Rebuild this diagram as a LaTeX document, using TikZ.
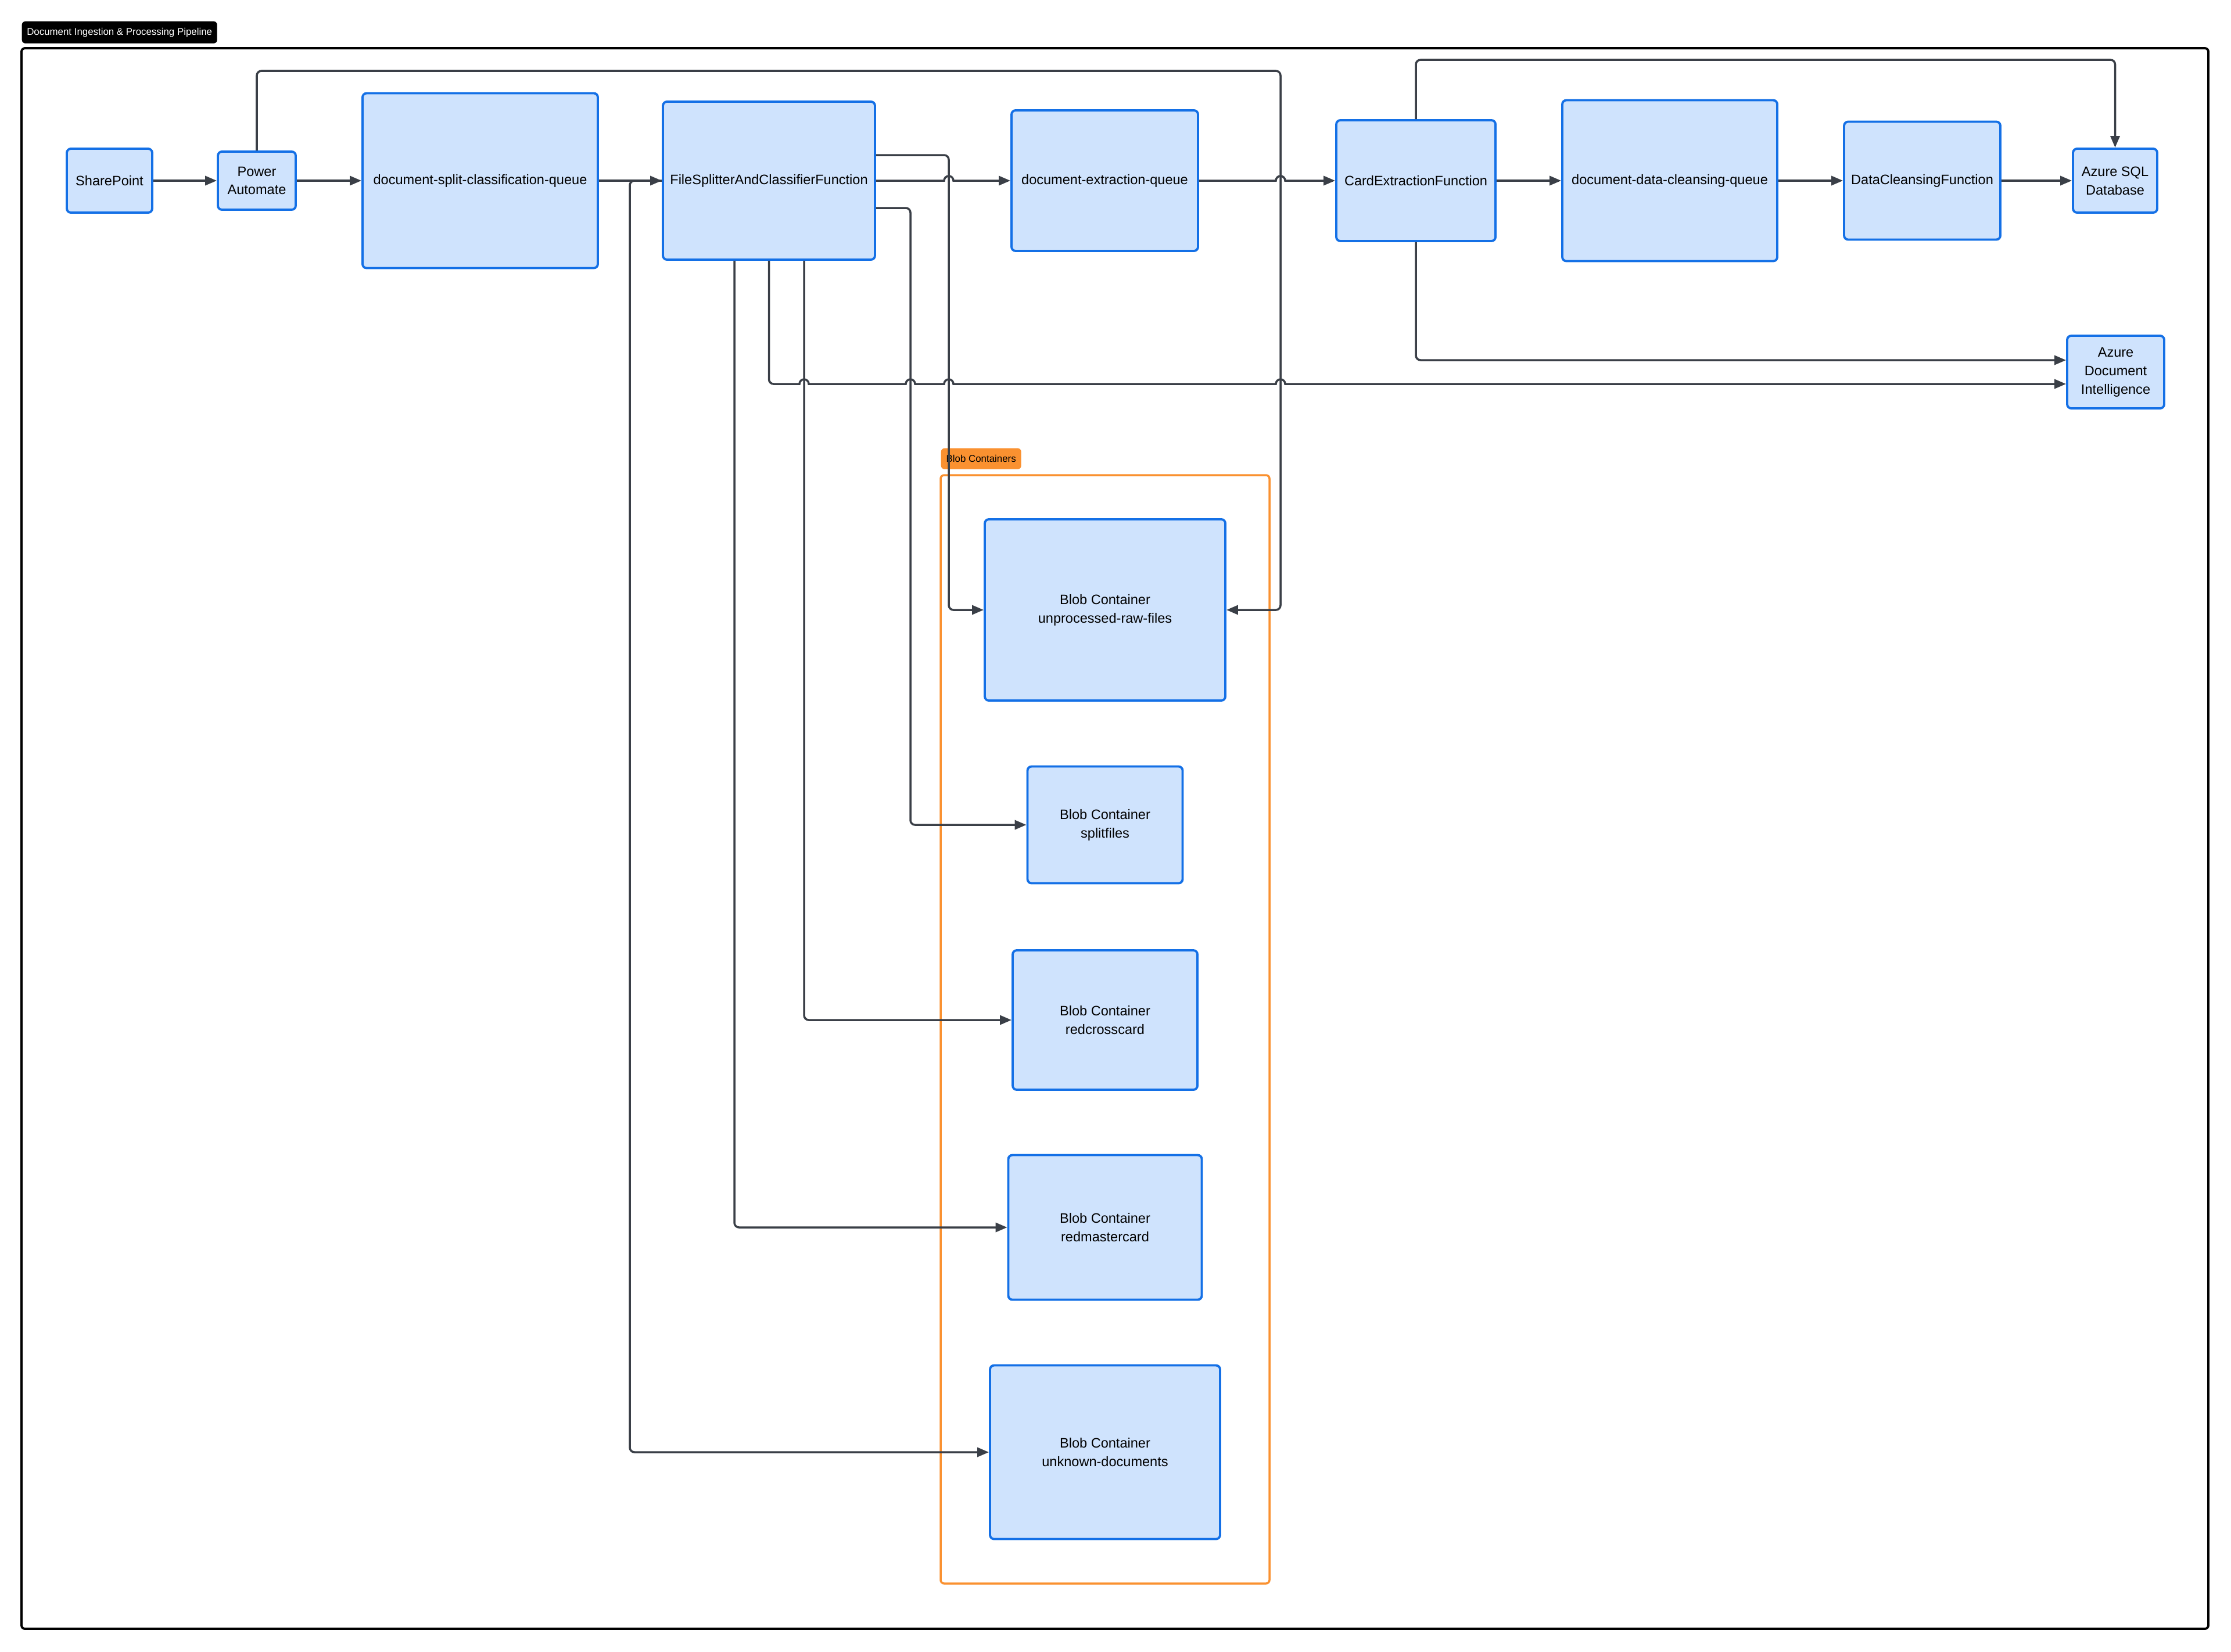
\documentclass[tikz,border=0pt]{standalone}
\usepackage{fontspec}
\setmainfont{Liberation Sans}
\definecolor{azBlue}{RGB}{20, 112, 230}
\definecolor{azFill}{RGB}{207, 227, 253}
\definecolor{wireGray}{RGB}{58, 63, 71}
\definecolor{grpOrange}{RGB}{250, 145, 48}
\usetikzlibrary{arrows.meta, calc}
\newcommand{\boxfont}{\fontsize{6.7}{9.1}\selectfont}
\newcommand{\tagfont}{\fontsize{4.8}{6}\selectfont}
\tikzset{
  svc/.style={rectangle, rounded corners=0.7mm, draw=azBlue, line width=1.1pt, fill=azFill, align=center, inner sep=1pt, font=\boxfont},
  wire/.style={-{Triangle[length=2mm, width=1.6mm]}, line width=1pt, wireGray, rounded corners=0.8mm},
  hop/.style 2 args={sharp corners, insert path={-- (#1-0.08, #2) arc[start angle=180, end angle=0, radius=0.08]}},
  frame/.style={draw=black, line width=1.1pt, rounded corners=0.6mm},
  grp/.style={draw=grpOrange, line width=1pt, rounded corners=0.6mm},
  titletag/.style={rectangle, rounded corners=0.6mm, fill=black, text=white, font=\tagfont, inner sep=0pt, anchor=north west},
  grptag/.style={rectangle, rounded corners=0.6mm, fill=grpOrange, text=black, font=\tagfont, inner sep=0pt, anchor=north west},
}

\begin{document}
\begin{tikzpicture}
  \useasboundingbox (0, 0) rectangle (38.40, -28.43);

  % outer frame and group
  \node[titletag, minimum width=3.36cm, minimum height=0.38cm] (title) at (0.37, -0.36) {Document Ingestion \& Processing Pipeline};
  \draw[frame] (0.37, -0.83) rectangle (38.01, -28.04);
  \node[grptag, minimum width=1.38cm, minimum height=0.36cm] (grplabel) at (16.19, -7.71) {Blob Containers};
  \draw[grp] (16.19, -8.18) rectangle (21.85, -27.26);

  % top row
  \node[svc, minimum width=1.47cm, minimum height=1.10cm] (sp) at (1.885, -3.11) {SharePoint};
  \node[svc, minimum width=1.34cm, minimum height=1.00cm] (pa) at (4.42, -3.11) {Power\\Automate};
  \node[svc, minimum width=4.05cm, minimum height=3.01cm] (dscq) at (8.265, -3.11) {document-split-classification-queue};
  \node[svc, minimum width=3.65cm, minimum height=2.72cm] (fsc) at (13.235, -3.11) {FileSplitterAndClassifierFunction};
  \node[svc, minimum width=3.21cm, minimum height=2.42cm] (deq) at (19.015, -3.11) {document-extraction-queue};
  \node[svc, minimum width=2.74cm, minimum height=2.08cm] (cef) at (24.37, -3.11) {CardExtractionFunction};
  \node[svc, minimum width=3.70cm, minimum height=2.77cm] (ddcq) at (28.74, -3.11) {document-data-cleansing-queue};
  \node[svc, minimum width=2.69cm, minimum height=2.03cm] (dcf) at (33.085, -3.11) {DataCleansingFunction};
  \node[svc, minimum width=1.45cm, minimum height=1.10cm] (sql) at (36.405, -3.11) {Azure SQL\\Database};
  \node[svc, minimum width=1.67cm, minimum height=1.25cm] (adi) at (36.415, -6.405) {Azure\\Document\\Intelligence};

  % blob containers
  \node[svc, minimum width=4.14cm, minimum height=3.12cm] (raw) at (19.02, -10.50) {Blob Container\\unprocessed-raw-files};
  \node[svc, minimum width=2.67cm, minimum height=2.01cm] (split) at (19.02, -14.20) {Blob Container\\splitfiles};
  \node[svc, minimum width=3.18cm, minimum height=2.40cm] (rcc) at (19.02, -17.56) {Blob Container\\redcrosscard};
  \node[svc, minimum width=3.33cm, minimum height=2.49cm] (rmc) at (19.02, -21.13) {Blob Container\\redmastercard};
  \node[svc, minimum width=3.96cm, minimum height=2.99cm] (unk) at (19.02, -25.00) {Blob Container\\unknown-documents};

  % main flow
  \draw[wire] (sp) -- (pa);
  \draw[wire] (pa) -- (dscq);
  \draw[wire] (dscq) -- (fsc);
  \draw[wire] (fsc) [hop={16.33}{-3.11}] -- (deq);
  \draw[wire] (deq) [hop={22.04}{-3.11}] -- (cef);
  \draw[wire] (cef) -- (ddcq);
  \draw[wire] (ddcq) -- (dcf);
  \draw[wire] (dcf) -- (sql);

  % side routes
  \draw[wire] (pa.north) |- (22.04, -1.22) |- (raw.east);
  \draw[wire] (cef.north) |- (36.405, -1.03) -- (sql.north);
  \draw[wire] (cef.south) |- (adi.west |- 0, -6.20);
  \draw[wire] (fsc.east |- 0, -2.67) -| (16.33, -10.50) -- (raw.west);
  \draw[wire] (fsc.east |- 0, -3.58) -| (15.67, -14.20) -- (split.west);
  \draw[wire] (fsc.south) -- (13.235, -6.61) -- (13.5, -6.61) [hop={13.84}{-6.61}] [hop={15.67}{-6.61}] [hop={16.33}{-6.61}] [hop={22.04}{-6.61}] -- (adi.west |- 0, -6.61);
  \draw[wire] (13.84, 0 |- fsc.south) |- (rcc.west);
  \draw[wire] (12.64, 0 |- fsc.south) |- (rmc.west);
  \draw[wire] (fsc.west) -- (10.84, -3.11) |- (unk.west);
\end{tikzpicture}
\end{document}
